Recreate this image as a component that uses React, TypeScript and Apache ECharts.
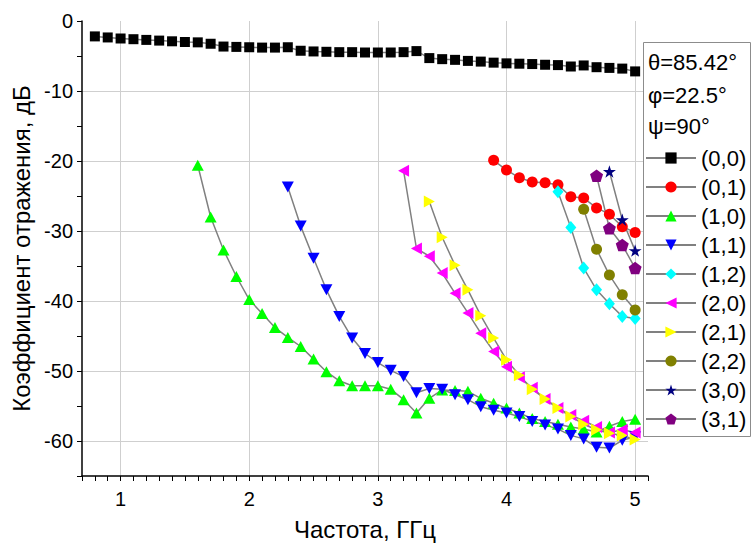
import React, { useEffect, useRef } from "react";
import * as echarts from "echarts";

const FONT = "'Liberation Sans', Arial, sans-serif";

const xTitle = "Частота, ГГц";
const yTitle = "Коэффициент отражения, дБ";
const headerLines = ["θ=85.42°", "φ=22.5°", "ψ=90°"];

const s00x = [0.8, 0.9, 1.0, 1.1, 1.2, 1.3, 1.4, 1.5, 1.6, 1.7, 1.8, 1.9, 2.0, 2.1, 2.2, 2.3, 2.4, 2.5, 2.6, 2.7, 2.8, 2.9, 3.0, 3.1, 3.2, 3.3, 3.4, 3.5, 3.6, 3.7, 3.8, 3.9, 4.0, 4.1, 4.2, 4.3, 4.4, 4.5, 4.6, 4.7, 4.8, 4.9, 5.0];
const s00y = [-2.2, -2.35, -2.5, -2.6, -2.7, -2.8, -2.9, -3.0, -3.05, -3.25, -3.65, -3.7, -3.75, -3.8, -3.8, -3.75, -4.25, -4.35, -4.4, -4.45, -4.45, -4.5, -4.5, -4.5, -4.45, -4.3, -5.3, -5.45, -5.55, -5.7, -5.8, -5.95, -6.05, -6.1, -6.15, -6.25, -6.3, -6.5, -6.35, -6.6, -6.7, -6.8, -7.2];

const s01x = [3.9, 4.0, 4.1, 4.2, 4.3, 4.4, 4.5, 4.6, 4.7, 4.8, 4.9, 5.0];
const s01y = [-19.9, -21.3, -22.4, -23.0, -23.1, -23.4, -25.1, -25.3, -26.7, -27.6, -29.4, -30.2];

const s10x = [1.6, 1.7, 1.8, 1.9, 2.0, 2.1, 2.2, 2.3, 2.4, 2.5, 2.6, 2.7, 2.8, 2.9, 3.0, 3.1, 3.2, 3.3, 3.4, 3.5, 3.6, 3.7, 3.8, 3.9, 4.0, 4.1, 4.2, 4.3, 4.4, 4.5, 4.6, 4.7, 4.8, 4.9, 5.0];
const s10y = [-20.6, -28.0, -32.7, -36.5, -39.8, -41.8, -43.8, -45.2, -46.5, -48.3, -50.1, -51.4, -52.1, -52.1, -52.1, -52.6, -54.1, -56.0, -53.9, -52.7, -52.8, -52.9, -53.9, -54.6, -55.3, -56.0, -56.8, -57.2, -57.6, -58.0, -58.3, -58.7, -57.9, -57.2, -56.9];

const s11x = [2.3, 2.4, 2.5, 2.6, 2.7, 2.8, 2.9, 3.0, 3.1, 3.2, 3.3, 3.4, 3.5, 3.6, 3.7, 3.8, 3.9, 4.0, 4.1, 4.2, 4.3, 4.4, 4.5, 4.6, 4.7, 4.8, 4.9, 5.0];
const s11y = [-23.7, -29.3, -33.9, -38.4, -42.2, -45.3, -47.5, -48.8, -49.9, -50.8, -53.1, -52.5, -52.6, -53.4, -54.1, -55.1, -55.6, -56.0, -56.5, -57.2, -57.7, -58.3, -59.2, -59.7, -60.9, -61.0, -59.9, -59.4];

const s12x = [4.4, 4.5, 4.6, 4.7, 4.8, 4.9, 5.0];
const s12y = [-24.4, -29.5, -35.3, -38.4, -40.4, -42.2, -42.5];

const s20x = [3.2, 3.3, 3.4, 3.5, 3.6, 3.7, 3.8, 3.9, 4.0, 4.1, 4.2, 4.3, 4.4, 4.5, 4.6, 4.7, 4.8, 4.9, 5.0];
const s20y = [-21.4, -32.5, -33.6, -36.0, -38.9, -41.7, -44.6, -47.2, -49.4, -50.9, -52.4, -54.0, -55.3, -56.3, -57.1, -58.0, -58.8, -58.4, -58.8];

const s21x = [3.4, 3.5, 3.6, 3.7, 3.8, 3.9, 4.0, 4.1, 4.2, 4.3, 4.4, 4.5, 4.6, 4.7, 4.8, 4.9, 5.0];
const s21y = [-25.8, -30.9, -34.9, -38.4, -42.1, -45.3, -48.4, -50.6, -52.6, -54.0, -55.3, -56.5, -57.6, -58.4, -58.9, -59.2, -59.8];

const s22x = [4.6, 4.7, 4.8, 4.9, 5.0];
const s22y = [-26.9, -32.6, -36.3, -39.1, -41.3];

const s30x = [4.8, 4.9, 5.0];
const s30y = [-21.5, -28.4, -32.8];

const s31x = [4.7, 4.8, 4.9, 5.0];
const s31y = [-22.1, -29.6, -32.0, -35.3];

const STAR =
  "path://M0,-100L22.45,-30.9L95.1,-30.9L36.33,11.8L58.78,80.9L0,38.2L-58.78,80.9L-36.33,11.8L-95.1,-30.9L-22.45,-30.9Z";
const PENTAGON = "path://M0,-100L95.1,-30.9L58.78,80.9L-58.78,80.9L-95.1,-30.9Z";

const seriesDefs = [
  { name: "(0,0)", xs: s00x, ys: s00y, color: "#000000", symbol: "rect", size: 10, rotate: 0 },
  { name: "(0,1)", xs: s01x, ys: s01y, color: "#ff0000", symbol: "circle", size: 11, rotate: 0 },
  { name: "(1,0)", xs: s10x, ys: s10y, color: "#00ff00", symbol: "triangle", size: [12, 11], rotate: 0 },
  { name: "(1,1)", xs: s11x, ys: s11y, color: "#0000ff", symbol: "triangle", size: [12, 11], rotate: 180 },
  { name: "(1,2)", xs: s12x, ys: s12y, color: "#00ffff", symbol: "diamond", size: [11, 13], rotate: 0 },
  { name: "(2,0)", xs: s20x, ys: s20y, color: "#ff00ff", symbol: "triangle", size: [12, 11], rotate: 90 },
  { name: "(2,1)", xs: s21x, ys: s21y, color: "#ffff00", symbol: "triangle", size: [12, 11], rotate: -90 },
  { name: "(2,2)", xs: s22x, ys: s22y, color: "#808000", symbol: "circle", size: 11, rotate: 0 },
  { name: "(3,0)", xs: s30x, ys: s30y, color: "#000080", symbol: STAR, size: [13, 12.5], rotate: 0 },
  { name: "(3,1)", xs: s31x, ys: s31y, color: "#800080", symbol: PENTAGON, size: [13, 12.5], rotate: 0 },
];

const GRID_COLOR = "#cfcfcf";
const T = "rgba(0,0,0,0)";

export default function App() {
  const ref = useRef<HTMLDivElement>(null);

  useEffect(() => {
    if (!ref.current) return;
    const chart = echarts.init(ref.current, null, { renderer: "svg" });

    const xSplitColors = [T, T, T, GRID_COLOR, T, T, T, T, T, T];
    const ySplitColors = [T, GRID_COLOR, T, GRID_COLOR, T, GRID_COLOR, T, GRID_COLOR, T, GRID_COLOR, T, GRID_COLOR, T, T];

    const option: any = {
      animation: false,
      backgroundColor: "#ffffff",
      grid: { left: 82, top: 21, right: 104, bottom: 72, containLabel: false },
      xAxis: {
        type: "value",
        min: 0.7,
        max: 5.1,
        interval: 0.1,
        name: xTitle,
        nameLocation: "middle",
        nameGap: 41,
        nameTextStyle: { fontSize: 24, fontFamily: FONT, color: "#000" },
        axisLine: { onZero: false, lineStyle: { color: "#000", width: 1.5 } },
        axisTick: { show: true, inside: false, length: 5, lineStyle: { color: "#000", width: 1 } },
        axisLabel: {
          fontSize: 20,
          fontFamily: FONT,
          color: "#000",
          margin: 13,
          formatter: (v: number) => (Math.abs(v - Math.round(v)) < 1e-6 ? String(Math.round(v)) : ""),
        },
        splitLine: { show: true, lineStyle: { color: xSplitColors, width: 1 } },
      },
      yAxis: {
        type: "value",
        min: -65,
        max: 0,
        interval: 5,
        name: yTitle,
        nameLocation: "middle",
        nameRotate: 90,
        nameGap: 47,
        nameTextStyle: { fontSize: 24, fontFamily: FONT, color: "#000" },
        axisLine: { show: true, onZero: false, lineStyle: { color: "#000", width: 1.5 } },
        axisTick: { show: true, inside: false, length: 5, lineStyle: { color: "#000", width: 1 } },
        axisLabel: {
          fontSize: 20,
          fontFamily: FONT,
          color: "#000",
          margin: 9,
          formatter: (v: number) => (Math.round(v) % 10 === 0 ? String(Math.round(v)) : ""),
        },
        splitLine: { show: true, lineStyle: { color: ySplitColors, width: 1 } },
      },
      legend: {
        orient: "vertical",
        left: 645,
        top: 147,
        padding: 0,
        itemWidth: 50,
        itemHeight: 14,
        itemGap: 7,
        z: 30,
        selectedMode: false,
        textStyle: { fontSize: 22, fontFamily: FONT, color: "#000", lineHeight: 22 },
        data: seriesDefs.map((s) => s.name),
      },
      graphic: [
        {
          type: "rect",
          z: 10,
          shape: { x: 643.5, y: 42.5, width: 107, height: 394 },
          style: { fill: "#ffffff", stroke: "#8c8c8c", lineWidth: 1 },
        },
        ...headerLines.map((t, i) => ({
          type: "text",
          z: 30,
          x: 648,
          y: [62, 95, 126][i],
          style: { text: t, fontSize: 22, fontFamily: FONT, fill: "#000", verticalAlign: "middle" },
        })),
      ],
      series: seriesDefs.map((s) => ({
        name: s.name,
        type: "line",
        data: s.xs.map((x, i) => [x, s.ys[i]]),
        symbol: s.symbol,
        symbolSize: s.size,
        symbolRotate: s.rotate,
        showSymbol: true,
        showAllSymbol: true,
        silent: true,
        itemStyle: { color: s.color, borderWidth: 0 },
        lineStyle: { color: "#808080", width: 1.5 },
        emphasis: { disabled: true },
        z: 2,
      })),
    };

    chart.setOption(option);
    return () => chart.dispose();
  }, []);

  return (
    <div
      ref={ref}
      style={{ position: "fixed", left: 0, top: 0, width: 752, height: 548, background: "#fff" }}
    />
  );
}
